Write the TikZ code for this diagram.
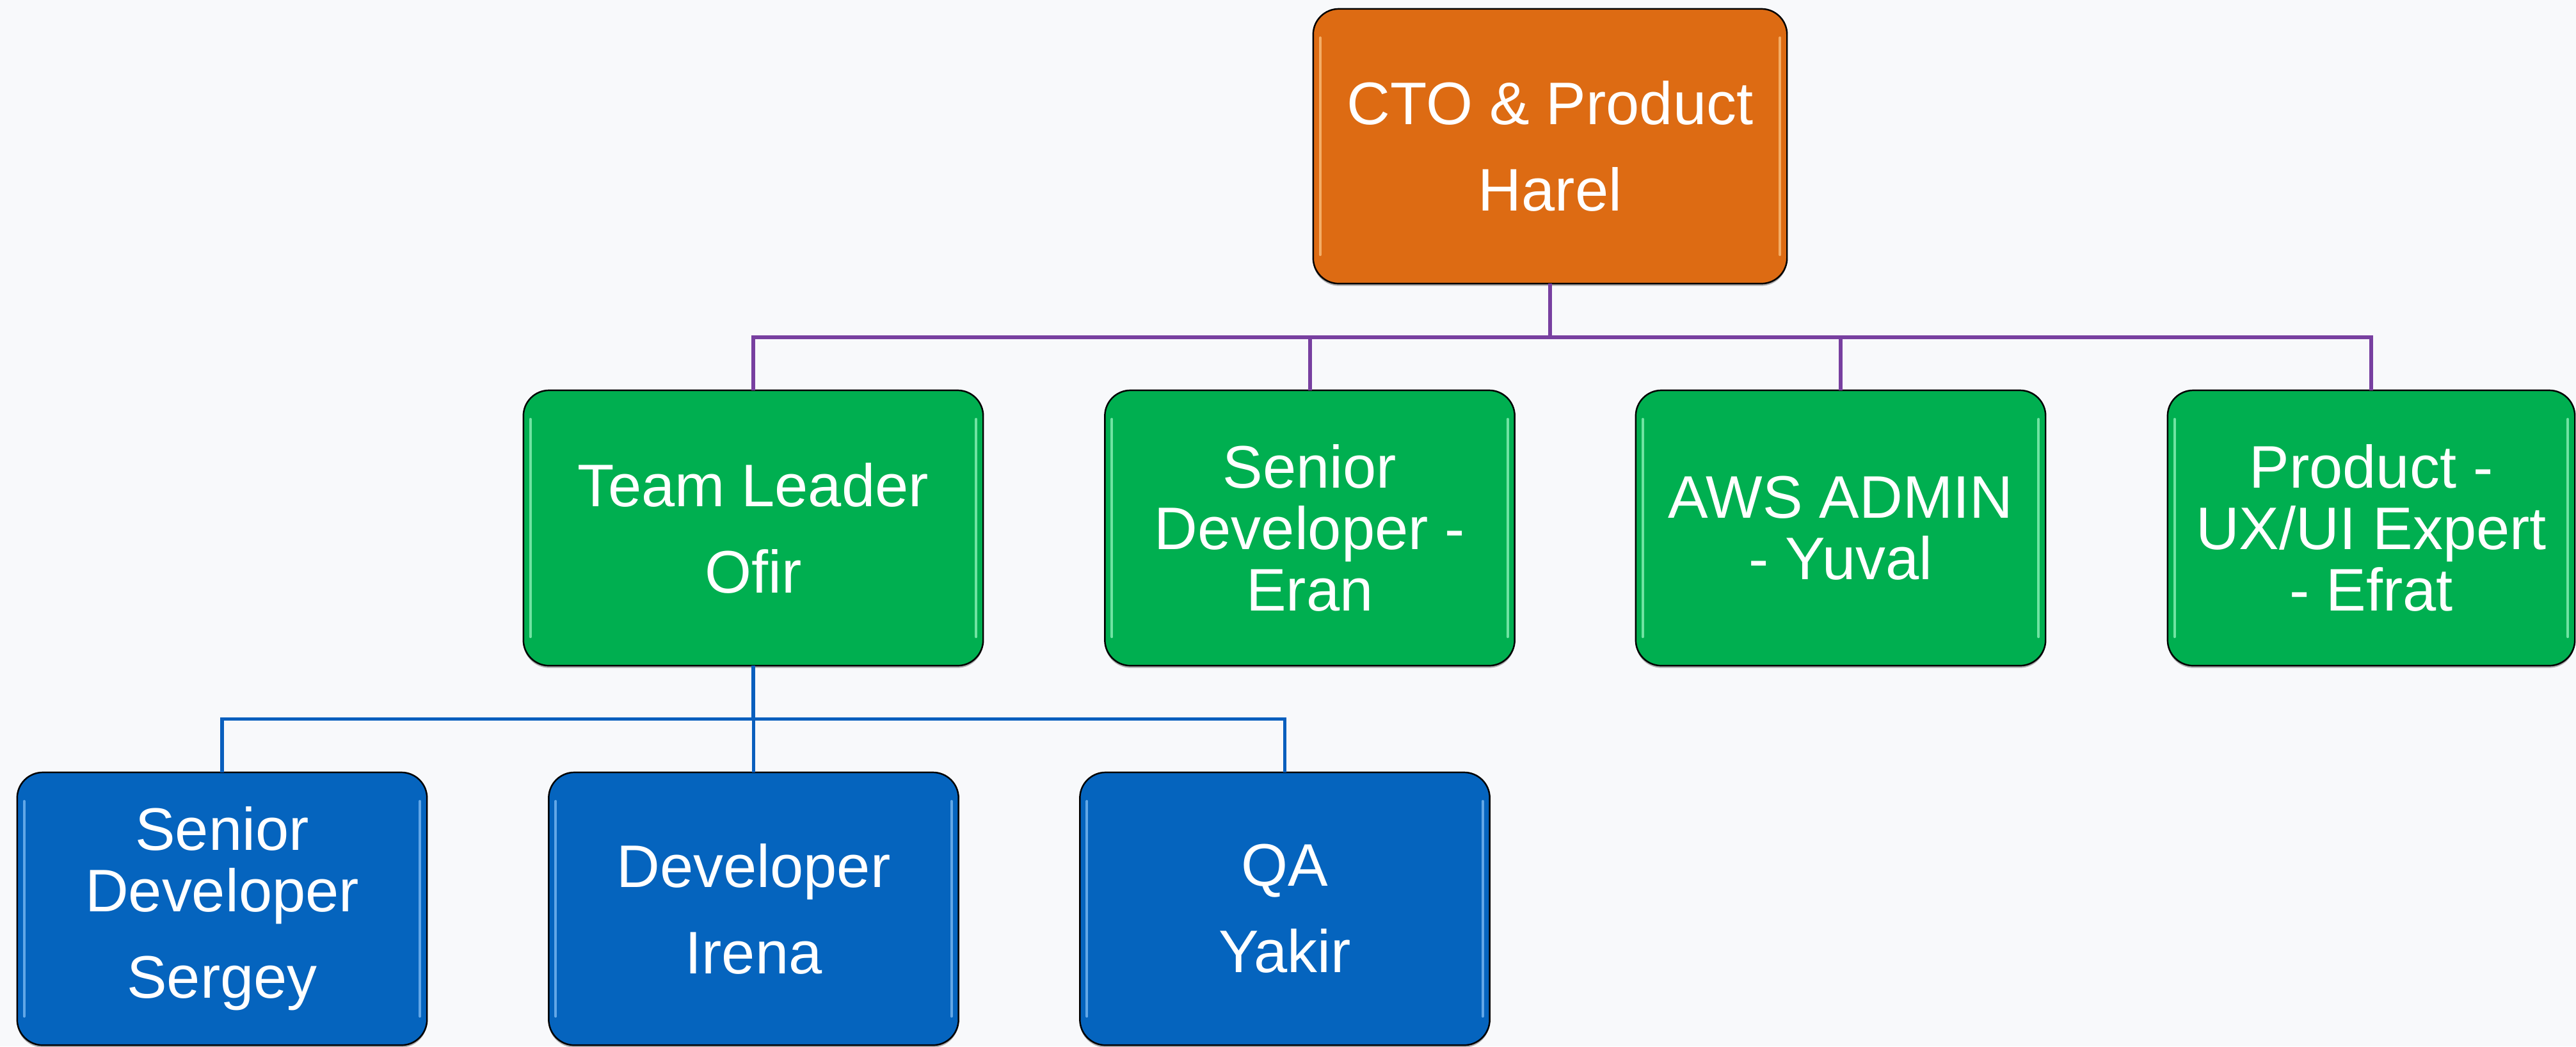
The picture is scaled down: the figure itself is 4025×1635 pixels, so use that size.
\documentclass[tikz,border=0pt]{standalone}
\usepackage{fontspec}
\setmainfont{Liberation Sans}[Ligatures=NoCommon]
\usetikzlibrary{shadows}
\definecolor{bgc}{RGB}{248,249,251}
\definecolor{orangefill}{RGB}{221,107,19}
\definecolor{greenfill}{RGB}{0,175,80}
\definecolor{bluefill}{RGB}{5,100,190}
\definecolor{orangehl}{RGB}{252,196,130}
\definecolor{greenhl}{RGB}{150,245,190}
\definecolor{bluehl}{RGB}{130,190,245}
\definecolor{purpleline}{RGB}{120,64,160}
\definecolor{blueline}{RGB}{10,95,190}
\newcommand{\boxgloss}[2]{%
  \draw[#2, line width=1.1pt, opacity=0.75, line cap=round]
    ([shift={(0.11cm,-0.45cm)}]#1.north west) -- ([shift={(0.11cm,0.45cm)}]#1.south west);
  \draw[#2, line width=1.1pt, opacity=0.75, line cap=round]
    ([shift={(-0.11cm,-0.45cm)}]#1.north east) -- ([shift={(-0.11cm,0.45cm)}]#1.south east);
}
\begin{document}
\begin{tikzpicture}[x=0.01cm,y=-0.01cm,
  orgbox/.style={rounded corners=0.4cm, draw=black, line width=0.7pt, text=white,
    align=center, inner sep=0pt, outer sep=0pt,
    minimum width=6.4cm, minimum height=4.3cm,
    font=\fontsize{26.7}{27.3}\selectfont,
    drop shadow={shadow xshift=0pt, shadow yshift=-0.035cm, opacity=0.3, fill=black}},
  topbox/.style={orgbox, fill=orangefill},
  midbox/.style={orgbox, fill=greenfill},
  lowbox/.style={orgbox, fill=bluefill},
  pline/.style={draw=purpleline, line width=1.7pt},
  bline/.style={draw=blueline, line width=1.6pt}]
\useasboundingbox (0,0) rectangle (4025,1635);
\fill[bgc] (0,0) rectangle (4025,1635);

\node[topbox, minimum width=7.4cm, minimum height=4.29cm] (cto) at (2422,228.5) {CTO \& Product\\[0.39cm]Harel};

\node[midbox, minimum width=7.18cm] (ofir) at (1177,825) {Team Leader\\[0.39cm]Ofir};
\node[midbox] (eran) at (2046.5,825) {Senior\\Developer -\\Eran};
\node[midbox] (aws) at (2876,825) {AWS ADMIN\\- Yuval};
\node[midbox, minimum width=6.36cm] (prod) at (3705,825) {Product -\\UX/UI Expert\\- Efrat};

\node[lowbox, minimum height=4.26cm] (sergey) at (347,1420) {Senior\\Developer\\[0.39cm]Sergey};
\node[lowbox, minimum height=4.26cm] (irena) at (1177.5,1420) {Developer\\[0.39cm]Irena};
\node[lowbox, minimum height=4.26cm] (qa) at (2007.5,1420) {QA\\[0.39cm]Yakir};

\boxgloss{cto}{orangehl}
\foreach \n in {ofir,eran,aws,prod} {\boxgloss{\n}{greenhl}}
\foreach \n in {sergey,irena,qa} {\boxgloss{\n}{bluehl}}

\coordinate (pbus) at (0,527);
\coordinate (bbus) at (0,1123.5);
\foreach \c in {ofir,eran,aws,prod}
  \draw[pline] (cto.south) -- (cto.south |- pbus) -| (\c.north);
\foreach \c in {sergey,irena,qa}
  \draw[bline] (ofir.south) -- (ofir.south |- bbus) -| (\c.north);
\end{tikzpicture}
\end{document}
